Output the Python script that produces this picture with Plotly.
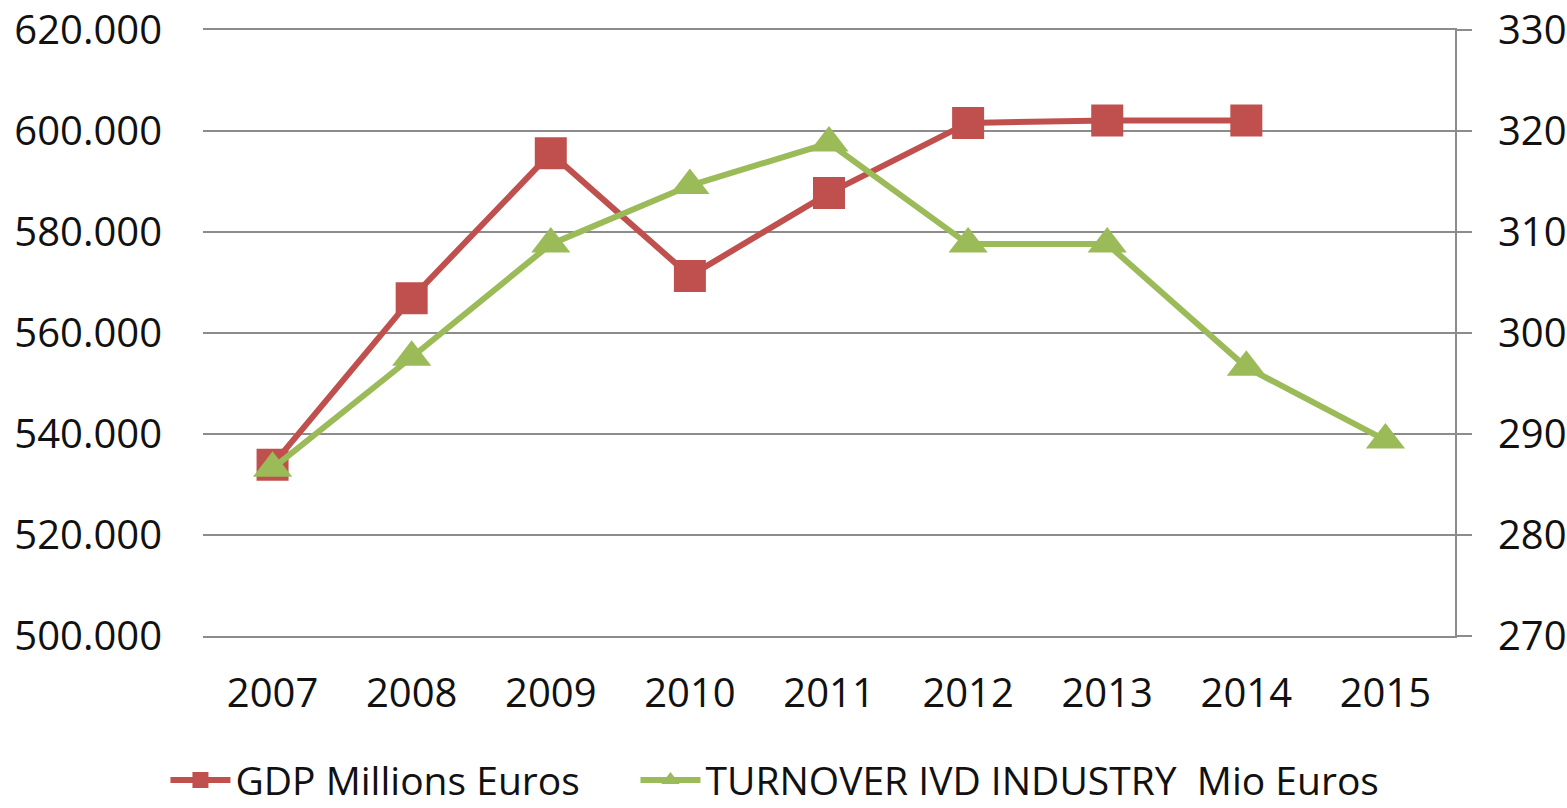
import plotly.graph_objects as go

years = ["2007", "2008", "2009", "2010", "2011", "2012", "2013", "2014", "2015"]
gdp = [533.9, 566.9, 595.6, 571.3, 587.7, 601.6, 602.1, 602.1, None]
turnover = [286.6, 297.6, 308.8, 314.6, 318.8, 308.8, 308.8, 296.6, 289.4]

left_ticks = [500, 520, 540, 560, 580, 600, 620]
left_labels = ["500.000", "520.000", "540.000", "560.000", "580.000", "600.000", "620.000"]
right_ticks = [270, 280, 290, 300, 310, 320, 330]

RED = "#C0504D"
GREEN = "#9BBB59"
GRID = "#8C8C8C"
TXT = "#111111"
NB = "\u00a0"

fig = go.Figure()
fig.add_trace(go.Scatter(
    x=years, y=gdp, name="GDP Millions Euros" + NB * 5, mode="lines+markers",
    line=dict(color=RED, width=6),
    marker=dict(symbol="square", size=32, color=RED),
    yaxis="y", connectgaps=False,
))
fig.add_trace(go.Scatter(
    x=years, y=turnover, name="TURNOVER IVD INDUSTRY" + NB + " Mio Euros", mode="lines+markers",
    line=dict(color=GREEN, width=6),
    marker=dict(symbol="triangle-up", size=34, color=GREEN),
    yaxis="y2",
))

fig.update_layout(
    width=1567, height=808,
    margin=dict(l=203, r=112, t=30, b=172, autoexpand=False),
    paper_bgcolor="white", plot_bgcolor="white",
    font=dict(family="Open Sans", size=40, color=TXT),
    showlegend=True,
    legend=dict(
        orientation="h", x=-0.03, xanchor="left", y=-0.238, yanchor="middle",
        font=dict(family="Open Sans", size=39, color=TXT),
        itemwidth=60, traceorder="normal",
    ),
    xaxis=dict(
        type="category", range=[-0.5, len(years) - 0.5],
        showgrid=False, zeroline=False,
        showline=True, mirror=True, linecolor=GRID, linewidth=2,
        ticks="", ticklabelstandoff=21, automargin=False,
        tickfont=dict(family="Open Sans", size=40, color=TXT),
    ),
    yaxis=dict(
        range=[500, 620], tickvals=left_ticks, ticktext=left_labels,
        showgrid=True, gridcolor=GRID, gridwidth=2, zeroline=False,
        showline=False, ticks="", ticklabelstandoff=40, automargin=False,
        tickfont=dict(family="Open Sans", size=40, color=TXT),
    ),
    yaxis2=dict(
        range=[270, 330], tickvals=right_ticks, overlaying="y", side="right",
        showgrid=False, zeroline=False,
        showline=True, linecolor=GRID, linewidth=2,
        ticks="outside", ticklen=15, tickcolor=GRID, tickwidth=2,
        ticklabelstandoff=18, automargin=False,
        tickfont=dict(family="Open Sans", size=40, color=TXT),
    ),
)

fig.write_html(
    "out.html",
    config={"displayModeBar": False},
    post_script="document.body.style.margin='0';document.body.style.overflow='hidden';",
)
